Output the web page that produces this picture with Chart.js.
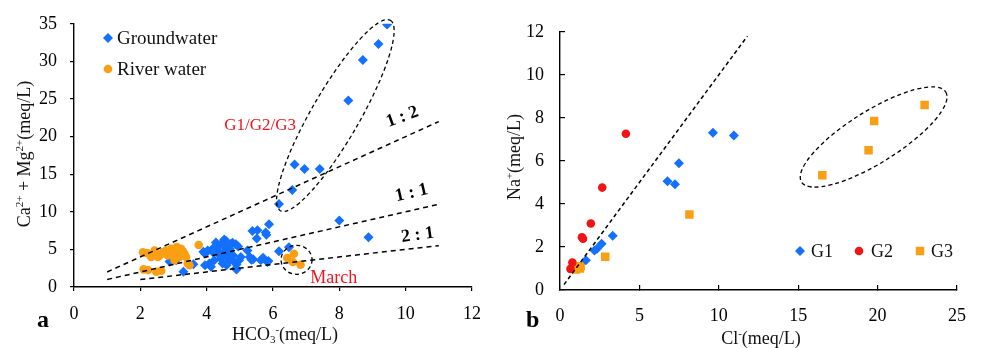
<!DOCTYPE html>
<html>
<head>
<meta charset="utf-8">
<script src="https://cdn.jsdelivr.net/npm/chart.js@4.4.1/dist/chart.umd.min.js"></script>
<style>
  body { margin: 0; background: #fff; }
  #wrap { position: relative; width: 986px; height: 348px; }
  canvas { position: absolute; top: 0; }
  #chartA { left: 0; }
  #chartB { left: 493px; }
</style>
</head>
<body>
<div id="wrap">
  <canvas id="chartA" width="493" height="348"></canvas>
  <canvas id="chartB" width="493" height="348"></canvas>
</div>
<script>
// ---- panel a: HCO3- vs Ca2+ + Mg2+ (meq/L) ----
const gwHCO3 = [9.44, 9.18, 8.71, 8.27, 6.65, 6.95, 7.41, 6.58, 6.18, 8.0, 8.88, 6.48, 6.18,
  5.88, 5.78, 5.53, 5.38, 5.51, 5.8, 5.63, 5.83, 5.7, 5.23, 5.3, 5.4, 5.35, 5.86, 5.03, 4.98, 4.88,
  4.88, 4.78, 4.73, 4.58, 4.43, 4.28, 4.53, 4.18, 4.03, 4.33, 4.53, 4.63, 4.43, 4.23, 4.08, 4.13,
  4.48, 4.78, 4.63, 4.68, 4.38, 4.8, 4.9, 4.55, 4.35, 4.7, 4.95, 4.2, 4.6, 4.9, 3.95,
  3.6, 3.3, 2.88, 3.08, 3.9, 3.95];
const gwCaMg = [34.9, 32.3, 30.2, 24.8, 16.3, 15.7, 15.7, 12.9, 11.05, 8.85, 6.6, 5.3, 4.77,
  8.33, 7.24, 7.55, 7.45, 6.45, 6.95, 3.55, 3.33, 3.9, 4.85, 3.98, 3.7, 3.64, 3.46, 3.98, 3.55, 2.47,
  5.7, 5.9, 5.72, 6.15, 5.72, 5.93, 6.3, 5.07, 4.85, 4.85, 4.63, 3.98, 3.77, 3.55, 3.12, 2.68,
  3.12, 3.55, 3.3, 4.5, 4.3, 4.2, 3.0, 5.3, 5.4, 5.1, 5.4, 4.6, 2.9, 2.34, 4.42,
  3.03, 2.03, 3.4, 3.55, 4.7, 2.9];

const rvHCO3 = [2.08, 2.1, 2.23, 2.33, 2.43, 2.48, 2.63, 2.58, 2.68, 2.78, 2.83, 2.93, 3.03, 3.08,
  3.23, 3.18, 3.33, 3.38, 3.03, 3.43, 3.48, 3.76, 2.73, 2.88, 3.13, 2.98, 3.28, 2.53, 3.1, 2.2,
  6.43, 6.63, 6.6, 6.83];
const rvCaMg = [4.63, 2.34, 2.25, 3.98, 4.85, 2.03, 2.16, 4.2, 4.63, 4.85, 4.2, 5.07, 4.42, 4.85,
  5.07, 3.98, 4.42, 3.98, 3.55, 3.12, 2.9, 5.59, 4.5, 4.65, 4.6, 4.3, 4.75, 4.0, 5.3, 4.5,
  3.85, 4.42, 3.33, 2.95];

// ratio lines 1:2, 1:1, 2:1
const line12X = [1, 11], line12Y = [2, 22];
const line11X = [1, 11], line11Y = [1, 11];
const line21X = [2, 11], line21Y = [1, 5.5];

// ---- panel b: Cl- vs Na+ (meq/L) ----
const g1Cl = [9.63, 10.95, 7.49, 6.77, 7.24, 3.32, 2.62, 2.33, 2.17, 1.63];
const g1Na = [7.31, 7.18, 5.89, 5.05, 4.91, 2.52, 2.15, 1.92, 1.83, 1.38];
const g2Cl = [4.15, 2.66, 1.94, 1.38, 1.45, 0.78, 0.66];
const g2Na = [7.26, 4.76, 3.09, 2.45, 2.38, 1.28, 0.98];
const g3Cl = [22.96, 19.78, 19.43, 16.52, 8.15, 2.85, 1.16, 1.0, 1.25, 1.3];
const g3Na = [8.6, 7.85, 6.5, 5.33, 3.51, 1.55, 1.05, 0.95, 1.0, 1.1];
const line1X = [0.25, 11.8], line1Y = [0.25, 11.8];

const BLUE = '#1470ff';
const ORANGE = '#fa9f14';
const RED = '#f01414';
const FONT = '"Liberation Serif", "Times New Roman", serif';

const toPts = (xs, ys) => xs.map((x, i) => ({ x: x, y: ys[i] }));

// draws text with sub/superscripts, parts = [[text, 0|1|-1], ...]
function richText(ctx, parts, x, y, size, vertical) {
  ctx.save();
  ctx.translate(x, y);
  if (vertical) ctx.rotate(-Math.PI / 2);
  ctx.textBaseline = 'alphabetic';
  ctx.textAlign = 'left';
  ctx.fillStyle = '#111';
  const small = Math.round(size * 0.62);
  let w = 0;
  parts.forEach(p => {
    ctx.font = (p[1] ? small : size) + 'px ' + FONT;
    w += ctx.measureText(p[0]).width;
  });
  let cx = -w / 2;
  parts.forEach(p => {
    ctx.font = (p[1] ? small : size) + 'px ' + FONT;
    const dy = p[1] === 1 ? -size * 0.4 : (p[1] === -1 ? size * 0.18 : 0);
    ctx.fillText(p[0], cx, dy);
    cx += ctx.measureText(p[0]).width;
  });
  ctx.restore();
}

const notesPlugin = {
  id: 'notes',
  afterDraw(chart, args, opts) {
    const { ctx } = chart;
    const xs = chart.scales.x, ys = chart.scales.y;
    ctx.save();
    (opts.ellipses || []).forEach(e => {
      ctx.beginPath();
      ctx.setLineDash([4, 3]);
      ctx.lineWidth = 1.3;
      ctx.strokeStyle = '#000';
      ctx.ellipse(xs.getPixelForValue(e.cx), ys.getPixelForValue(e.cy), e.rx, e.ry,
        e.rot * Math.PI / 180, 0, Math.PI * 2);
      ctx.stroke();
    });
    ctx.setLineDash([]);
    (opts.labels || []).forEach(l => {
      ctx.save();
      ctx.translate(xs.getPixelForValue(l.x), ys.getPixelForValue(l.y));
      ctx.rotate((l.rot || 0) * Math.PI / 180);
      ctx.font = l.font;
      ctx.fillStyle = l.color;
      ctx.textAlign = 'center';
      ctx.textBaseline = 'middle';
      ctx.fillText(l.text, 0, 0);
      ctx.restore();
    });
    (opts.legend || []).forEach(item => {
      const ds = chart.data.datasets[item.ds];
      ctx.fillStyle = ds.backgroundColor;
      Chart.helpers.drawPoint(ctx, { pointStyle: ds.pointStyle, radius: ds.pointRadius, rotation: 0, borderWidth: 0 }, item.mx, item.y);
      ctx.font = item.size + 'px ' + FONT;
      ctx.fillStyle = '#111';
      ctx.textAlign = 'left';
      ctx.textBaseline = 'middle';
      ctx.fillText(ds.label, item.tx, item.y + 1);
    });
    (opts.titles || []).forEach(t => richText(ctx, t.parts, t.x, t.y, t.size, t.vertical));
    if (opts.letter) {
      ctx.font = 'bold 24px ' + FONT;
      ctx.fillStyle = '#000';
      ctx.textAlign = 'left';
      ctx.textBaseline = 'alphabetic';
      ctx.fillText(opts.letter.text, opts.letter.x, opts.letter.y);
    }
    ctx.restore();
  }
};

function dashLine(xs, ys, dash) {
  return {
    type: 'line', label: '', data: toPts(xs, ys), borderColor: '#000', borderWidth: 1.5,
    borderDash: dash, pointRadius: 0, fill: false, showLine: true
  };
}

function axis(min, max, step, tickLen, pad, fit) {
  return {
    type: 'linear', min: min, max: max,
    ticks: { stepSize: step, padding: pad, color: '#000', font: { family: FONT, size: 18 } },
    grid: { display: true, drawOnChartArea: false, drawTicks: true, tickLength: tickLen, color: '#000', lineWidth: 1.2 },
    border: { display: true, color: '#000', width: 1.4 },
    afterFit: fit
  };
}

new Chart(document.getElementById('chartA'), {
  type: 'scatter',
  data: {
    datasets: [
      dashLine(line12X, line12Y, [5, 4]),
      dashLine(line11X, line11Y, [5, 4]),
      dashLine(line21X, line21Y, [5, 4]),
      { label: 'River water', data: toPts(rvHCO3, rvCaMg), backgroundColor: ORANGE, borderWidth: 0, pointStyle: 'circle', pointRadius: 4.3 },
      { label: 'Groundwater', data: toPts(gwHCO3, gwCaMg), backgroundColor: BLUE, borderWidth: 0, pointStyle: 'rectRot', pointRadius: 5 }
    ]
  },
  options: {
    responsive: false, animation: false,
    layout: { padding: { top: 18, right: 19, left: 0, bottom: 0 } },
    plugins: {
      legend: { display: false }, tooltip: { enabled: false },
      notes: {
        ellipses: [
          { cx: 7.88, cy: 22.8, rx: 110, ry: 24, rot: -60 },
          { cx: 6.71, cy: 3.62, rx: 15.5, ry: 14.5, rot: 0 }
        ],
        labels: [
          { text: '1 : 2', x: 9.9, y: 22.6, rot: -20, font: 'bold 18px ' + FONT, color: '#000' },
          { text: '1 : 1', x: 10.18, y: 12.5, rot: -13, font: 'bold 18px ' + FONT, color: '#000' },
          { text: '2 : 1', x: 10.36, y: 6.9, rot: -8, font: 'bold 18px ' + FONT, color: '#000' },
          { text: 'G1/G2/G3', x: 5.61, y: 21.5, font: '17px ' + FONT, color: '#f0141e' },
          { text: 'March', x: 7.83, y: 1.2, font: '18px ' + FONT, color: '#f0141e' }
        ],
        legend: [
          { ds: 4, mx: 108, tx: 117, y: 38, size: 19 },
          { ds: 3, mx: 108, tx: 117, y: 69, size: 19 }
        ],
        titles: [
          { parts: [['HCO', 0], ['3', -1], ['-', 1], ['(meq/L)', 0]], x: 285, y: 340, size: 18 },
          { parts: [['Ca', 0], ['2+', 1], [' + Mg', 0], ['2+', 1], ['(meq/L)', 0]], x: 30, y: 154, size: 18, vertical: true }
        ],
        letter: { text: 'a', x: 37, y: 327 }
      }
    },
    scales: {
      x: axis(0, 12, 2, 4, 12, s => { s.height = 61; }),
      y: axis(0, 35, 5, 4, 13, s => { s.width = 74; })
    }
  },
  plugins: [notesPlugin]
});

new Chart(document.getElementById('chartB'), {
  type: 'scatter',
  data: {
    datasets: [
      dashLine(line1X, line1Y, [4, 3]),
      { label: 'G1', data: toPts(g1Cl, g1Na), backgroundColor: BLUE, borderWidth: 0, pointStyle: 'rectRot', pointRadius: 5 },
      { label: 'G2', data: toPts(g2Cl, g2Na), backgroundColor: RED, borderWidth: 0, pointStyle: 'circle', pointRadius: 4.3 },
      { label: 'G3', data: toPts(g3Cl, g3Na), backgroundColor: ORANGE, borderWidth: 0, pointStyle: 'rect', pointRadius: 6 }
    ]
  },
  options: {
    responsive: false, animation: false,
    layout: { padding: { top: 23, right: 22, left: 0, bottom: 0 } },
    plugins: {
      legend: { display: false }, tooltip: { enabled: false },
      notes: {
        ellipses: [
          { cx: 19.75, cy: 7.11, rx: 85, ry: 26, rot: -32 }
        ],
        legend: [
          { ds: 1, mx: 307, tx: 318, y: 251, size: 18 },
          { ds: 2, mx: 366, tx: 378, y: 251, size: 18 },
          { ds: 3, mx: 427, tx: 438, y: 251, size: 18 }
        ],
        titles: [
          { parts: [['Cl', 0], ['-', 1], ['(meq/L)', 0]], x: 268, y: 344, size: 18 },
          { parts: [['Na', 0], ['+', 1], ['(meq/L)', 0]], x: 27, y: 157, size: 18, vertical: true }
        ],
        letter: { text: 'b', x: 33, y: 327 }
      }
    },
    scales: {
      x: axis(0, 25, 5, -5, 20, s => { s.height = 58; }),
      y: axis(0, 12, 2, -5, 21, s => { s.width = 67; })
    }
  },
  plugins: [notesPlugin]
});
</script>
</body>
</html>
